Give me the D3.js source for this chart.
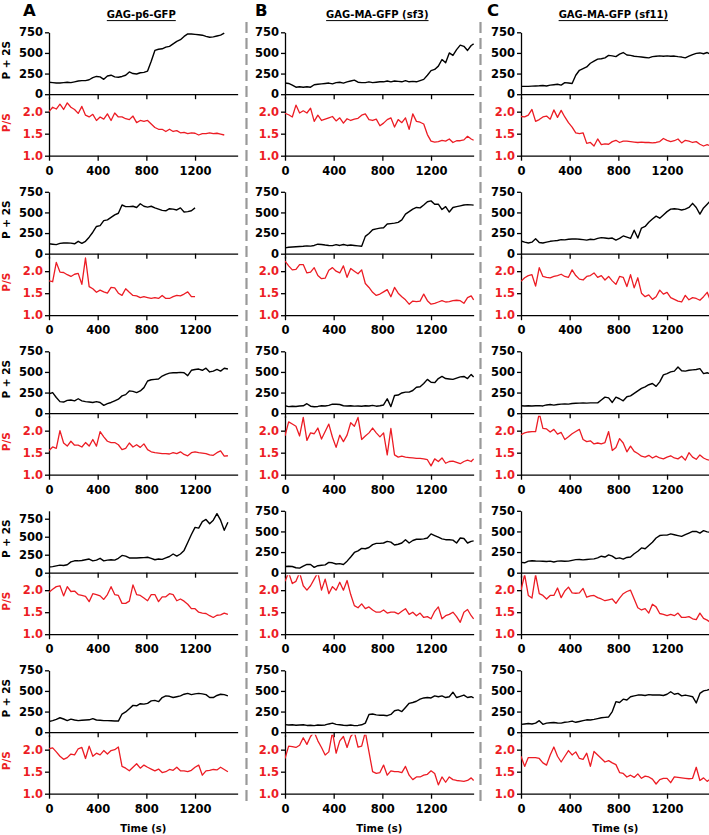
<!DOCTYPE html>
<html><head><meta charset="utf-8">
<script src="https://cdn.jsdelivr.net/npm/d3@7"></script>
<style>body{margin:0;background:#fff}svg{display:block}</style>
</head><body>
<svg id="c" width="709" height="835"></svg>
<script>
// ---------- data ----------
const timeS = [0,30,60,90,120,150,180,210,240,270,300,330,360,390,420,450,480,510,540,570,600,630,660,690,720,750,780,810,840,870,900,930,960,990,1020,1050,1080,1110,1140,1170,1200,1230,1260,1290,1320,1350,1380,1410,1440,1470,1500,1530,1550];
const colLetters = ["A","B","C"];
const colTitles = ["GAG-p6-GFP","GAG-MA-GFP (sf3)","GAG-MA-GFP (sf11)"];
const xTicks = [0,400,800,1200];
const sumTicks = [0,250,500,750];
const ratioTicks = [1.0,1.5,2.0];
const sumLabel = "P + 2S";
const ratioLabel = "P/S";
const timeLabel = "Time (s)";

// P + 2S (black)
const sumA1 = [145,140,135,135,140,145,140,150,160,165,165,175,200,215,210,180,220,230,210,205,215,230,270,250,245,260,265,280,400,530,545,550,570,580,610,640,660,700,730,730,725,720,715,700,690,695,705,715,740];
const sumB1 = [135,130,110,85,90,85,90,85,115,120,125,130,135,125,140,145,135,150,160,170,145,140,140,150,140,145,150,150,160,150,160,155,150,165,150,155,150,165,180,230,285,300,340,420,380,500,470,540,595,580,530,590,610];
const sumC1 = [95,95,95,98,100,102,105,100,110,115,120,110,140,135,130,230,290,310,330,375,400,425,430,440,470,465,455,485,505,475,470,460,455,450,445,440,455,460,465,460,465,460,462,455,450,440,460,480,495,500,490,505,490];
const sumA2 = [120,115,110,125,130,130,128,120,150,125,150,200,260,330,340,400,410,440,470,490,590,570,570,575,560,605,575,565,575,555,540,525,520,545,540,530,555,505,510,520,555];
const sumB2 = [70,78,82,85,88,90,95,92,100,115,112,105,100,98,110,100,112,100,105,100,95,90,210,245,290,300,310,315,360,365,370,380,410,480,510,540,560,555,590,630,640,600,600,535,570,505,560,570,580,590,595,592,588];
const sumC2 = [155,140,130,140,180,135,130,140,150,155,160,170,168,175,178,180,175,170,165,175,170,185,195,190,185,190,165,185,215,200,185,285,190,310,330,380,420,455,430,470,510,540,545,540,530,540,560,610,560,480,555,600,630];
const sumA3 = [235,250,190,140,135,155,160,150,175,150,140,135,130,140,130,95,115,130,150,170,210,225,270,265,250,270,310,390,405,410,415,450,470,485,490,490,495,490,455,520,530,535,520,545,500,510,530,510,545,535];
const sumB3 = [90,80,85,82,88,90,115,85,78,82,90,88,95,110,108,105,90,88,90,86,88,85,90,88,95,85,90,100,175,80,215,220,245,255,255,275,315,320,360,410,375,370,420,445,420,415,410,425,440,445,420,470,440];
const sumC3 = [90,88,90,88,90,92,88,100,105,98,105,110,112,110,118,120,122,125,122,125,125,125,160,195,185,130,195,175,150,200,210,240,270,300,320,345,360,325,380,465,480,500,510,560,515,510,520,525,530,540,480,490,480];
const sumA4 = [80,85,95,105,100,110,150,165,165,170,180,190,165,175,200,165,175,180,175,200,240,230,205,205,205,208,210,215,200,180,190,185,205,225,260,230,260,310,420,530,630,620,710,740,680,730,820,730,590,700];
const sumB4 = [75,78,75,60,55,80,100,100,65,85,90,95,125,120,105,110,100,140,190,245,265,295,290,305,340,355,355,360,380,370,335,345,360,400,360,390,405,405,410,420,470,450,430,410,400,400,395,360,420,415,360,380,385];
const sumC4 = [125,120,140,145,142,140,138,135,140,130,140,142,138,140,150,158,160,155,160,165,168,180,200,190,215,200,170,180,165,185,190,230,260,300,290,330,370,420,450,455,455,470,460,450,440,460,480,500,500,480,510,495,490];
const sumA5 = [130,140,155,175,160,140,158,148,140,145,148,150,165,148,145,140,140,138,135,135,220,245,285,325,320,345,340,350,380,385,370,420,440,435,420,430,440,460,470,455,465,470,465,455,420,420,445,460,455,440];
const sumB5 = [92,88,90,85,88,90,82,85,80,88,85,88,100,110,95,90,85,82,88,80,82,90,110,215,220,210,205,205,200,215,260,270,250,300,350,360,375,400,415,420,415,440,430,440,420,430,485,420,435,450,420,430,415];
const sumC5 = [95,100,105,100,110,140,95,110,115,118,112,110,120,125,135,120,130,140,150,148,155,165,175,180,185,250,370,360,400,390,430,440,450,450,445,455,450,450,450,445,460,490,460,470,440,450,440,430,355,470,500,510,520];

// P/S (red)
const ratioA1 = [2.0,2.1,2.06,2.17,2.05,2.2,2.1,2.05,1.96,2.12,1.92,1.88,1.94,1.8,1.88,1.83,1.95,1.8,1.97,1.88,1.88,1.84,1.82,1.9,1.75,1.8,1.78,1.8,1.72,1.64,1.6,1.6,1.55,1.6,1.55,1.57,1.52,1.53,1.5,1.52,1.51,1.47,1.5,1.5,1.52,1.5,1.51,1.49,1.47];
const ratioB1 = [1.96,1.93,1.88,2.15,1.97,2.02,1.97,2.08,1.78,1.92,1.8,1.83,1.86,1.89,1.79,1.86,1.74,1.84,1.8,1.83,1.85,1.92,1.95,1.82,1.8,1.83,1.68,1.74,1.82,1.86,1.65,1.82,1.75,1.86,1.6,1.95,1.78,1.76,1.72,1.48,1.33,1.31,1.32,1.35,1.33,1.38,1.3,1.34,1.34,1.36,1.44,1.38,1.35];
const ratioC1 = [1.89,1.88,1.92,2.05,1.78,1.82,1.88,1.9,1.83,2.04,1.87,2.03,1.88,1.75,1.65,1.52,1.5,1.52,1.28,1.3,1.22,1.38,1.25,1.27,1.26,1.32,1.35,1.3,1.33,1.33,1.32,1.31,1.3,1.31,1.3,1.3,1.29,1.3,1.32,1.39,1.35,1.32,1.34,1.38,1.29,1.35,1.33,1.3,1.32,1.26,1.22,1.25,1.23];
const ratioA2 = [1.78,1.76,2.2,1.98,1.97,1.92,1.88,1.93,1.95,1.7,2.3,1.65,1.6,1.52,1.57,1.53,1.5,1.63,1.62,1.5,1.45,1.6,1.52,1.45,1.44,1.4,1.42,1.4,1.38,1.4,1.38,1.45,1.38,1.38,1.42,1.45,1.44,1.48,1.53,1.42,1.42];
const ratioB2 = [2.23,2.12,2.03,2.04,2.15,2.15,1.96,1.98,2.08,1.9,1.83,1.84,2.02,2.08,2.0,1.96,2.12,1.86,2.06,2.0,1.94,2.03,1.72,1.63,1.52,1.45,1.48,1.53,1.58,1.42,1.63,1.5,1.42,1.35,1.25,1.32,1.31,1.32,1.48,1.33,1.25,1.27,1.3,1.33,1.3,1.31,1.33,1.34,1.33,1.27,1.4,1.44,1.35];
const ratioC2 = [1.77,1.85,1.9,1.92,1.66,2.08,1.88,1.86,1.85,1.88,1.9,1.93,1.88,1.86,2.03,1.9,1.82,1.8,1.88,1.9,1.96,1.86,1.9,1.8,1.88,1.78,1.7,1.88,1.86,1.65,1.92,1.62,1.85,1.5,1.42,1.46,1.36,1.42,1.57,1.48,1.52,1.4,1.36,1.32,1.3,1.45,1.35,1.4,1.38,1.34,1.42,1.52,1.38];
const ratioA3 = [1.55,1.63,1.6,2.0,1.72,1.65,1.76,1.67,1.67,1.63,1.73,1.65,1.8,1.65,1.98,1.86,1.76,1.73,1.73,1.68,1.57,1.6,1.72,1.63,1.68,1.62,1.7,1.57,1.52,1.5,1.49,1.48,1.48,1.47,1.5,1.48,1.52,1.46,1.43,1.5,1.52,1.5,1.49,1.48,1.45,1.44,1.5,1.54,1.42,1.43];
const ratioB3 = [1.88,2.2,2.15,2.1,1.88,2.3,1.78,1.95,1.93,2.06,1.81,1.98,2.15,1.85,1.62,1.9,1.75,1.9,2.18,2.1,2.3,1.8,1.88,1.95,2.06,1.95,1.86,1.95,1.45,2.05,1.45,1.4,1.42,1.4,1.39,1.38,1.37,1.37,1.36,1.34,1.2,1.36,1.3,1.38,1.26,1.3,1.31,1.28,1.25,1.3,1.33,1.3,1.36];
const ratioC3 = [1.91,1.95,1.97,1.98,1.98,2.4,2.05,2.04,1.97,2.03,1.92,1.96,1.8,1.86,1.93,1.98,2.03,1.8,1.75,1.77,1.7,1.72,1.7,1.73,1.98,1.55,1.62,1.82,1.72,1.52,1.65,1.53,1.48,1.42,1.4,1.44,1.38,1.42,1.38,1.36,1.4,1.43,1.38,1.36,1.42,1.33,1.5,1.4,1.35,1.45,1.38,1.34,1.33];
const ratioA4 = [1.95,2.02,2.08,2.1,1.87,2.08,1.97,1.98,1.9,1.88,1.86,1.74,1.92,1.9,1.87,1.79,1.9,2.08,1.9,1.88,1.7,1.7,1.75,2.12,1.9,1.88,1.82,1.76,1.9,1.9,1.74,1.85,1.85,1.92,1.9,1.76,1.8,1.75,1.68,1.58,1.58,1.5,1.48,1.47,1.42,1.38,1.43,1.44,1.48,1.45];
const ratioB4 = [2.2,2.4,2.15,2.2,2.4,2.1,2.0,2.1,2.25,2.4,2.0,2.25,1.92,2.08,2.0,2.18,2.0,2.22,1.9,1.65,1.6,1.69,1.58,1.62,1.55,1.5,1.5,1.55,1.48,1.5,1.5,1.46,1.52,1.58,1.45,1.5,1.42,1.48,1.38,1.4,1.35,1.52,1.62,1.35,1.42,1.45,1.5,1.4,1.27,1.5,1.56,1.42,1.35];
const ratioC4 = [2.0,2.35,1.88,1.82,2.35,1.92,1.88,1.8,1.88,1.88,2.05,1.83,1.98,2.07,1.94,1.93,1.94,2.04,1.84,1.87,1.88,1.83,1.8,1.76,1.78,1.8,1.7,1.82,1.92,1.97,2.0,1.8,1.6,1.55,1.58,1.48,1.68,1.62,1.47,1.45,1.42,1.45,1.42,1.48,1.38,1.38,1.4,1.35,1.33,1.48,1.36,1.32,1.28];
const ratioA5 = [2.02,2.04,1.95,1.85,1.78,1.82,1.9,1.88,2.02,2.05,1.8,2.08,1.85,1.92,1.88,1.98,1.9,1.98,2.0,2.06,1.62,1.58,1.52,1.6,1.68,1.58,1.65,1.6,1.56,1.52,1.56,1.48,1.5,1.55,1.53,1.6,1.52,1.52,1.5,1.53,1.6,1.65,1.42,1.52,1.53,1.55,1.54,1.6,1.55,1.5];
const ratioB5 = [1.8,2.08,2.07,2.05,2.1,2.27,2.12,2.3,2.4,2.2,2.05,1.88,1.95,2.4,1.92,2.2,2.3,2.05,2.3,2.4,2.06,2.08,2.4,1.95,1.5,1.46,1.48,1.65,1.42,1.52,1.5,1.5,1.48,1.62,1.42,1.32,1.38,1.38,1.42,1.44,1.52,1.46,1.2,1.38,1.26,1.38,1.32,1.3,1.29,1.28,1.3,1.36,1.3];
const ratioC5 = [1.85,1.62,1.82,1.82,1.82,1.8,1.7,1.65,1.88,2.06,1.85,1.72,1.85,1.98,1.88,1.95,1.8,1.78,1.92,1.62,1.96,1.88,1.8,1.72,1.75,1.7,1.66,1.48,1.46,1.38,1.42,1.37,1.45,1.35,1.4,1.38,1.33,1.22,1.32,1.35,1.35,1.25,1.38,1.37,1.36,1.35,1.34,1.35,1.6,1.3,1.36,1.28,1.32];

// y-domain tops of the P + 2S panels (row by row, A B C)
const sumTopRow = [[750,750,750],[750,750,750],[750,750,750],[860,750,750],[750,750,750]];
const ratioDomain = [1.0, 2.34];
const timeDomain = [0, 1550];

const sumRows = [[sumA1,sumB1,sumC1],[sumA2,sumB2,sumC2],[sumA3,sumB3,sumC3],[sumA4,sumB4,sumC4],[sumA5,sumB5,sumC5]];
const ratioRows = [[ratioA1,ratioB1,ratioC1],[ratioA2,ratioB2,ratioC2],[ratioA3,ratioB3,ratioC3],[ratioA4,ratioB4,ratioC4],[ratioA5,ratioB5,ratioC5]];

// ---------- layout ----------
const RED = "#ec1c24";
const FONT = "'DejaVu Sans', Arial, sans-serif";
const colX = [49, 285, 521];
const pxPerSec = 0.1217;
const rowPitch = 159.5;
const sumTopY = 32.3, sumBotY = 94.2, ratioTopY = 96.7, ratioBotY = 155.7;
const letterX = [23, 255, 487];
const dashX = [246.5, 480.5];

const svg = d3.select("#c");
const defs = svg.append("defs");

// separators
svg.selectAll("line.sep").data(dashX).join("line").attr("class","sep")
  .attr("x1", d=>d).attr("x2", d=>d).attr("y1", 22).attr("y2", 802)
  .attr("stroke", "#999").attr("stroke-width", 2.2).attr("stroke-dasharray", "11,5");

function styleAxis(g, textColor){
  g.attr("font-family", FONT).attr("font-size", 11.5).attr("font-weight", "bold");
  g.selectAll(".domain").attr("stroke", "#000").attr("stroke-width", 1.3);
  g.selectAll(".tick line").attr("stroke", "#000").attr("stroke-width", 1.3);
  g.selectAll(".tick text").attr("fill", textColor);
}

let clipId = 0;
for (let r = 0; r < 5; r++) {
  for (let c = 0; c < 3; c++) {
    const ox = colX[c], oy = r * rowPitch;
    const x = d3.scaleLinear().domain(timeDomain).range([ox, ox + (timeDomain[1]-timeDomain[0]) * pxPerSec]);
    const yS = d3.scaleLinear().domain([0, sumTopRow[r][c]]).range([oy + sumBotY, oy + sumTopY]);
    const yR = d3.scaleLinear().domain(ratioDomain).range([oy + ratioBotY, oy + ratioTopY]);

    // P + 2S axes
    const gy1 = svg.append("g").attr("transform", `translate(${ox},0)`)
      .call(d3.axisLeft(yS).tickValues(sumTicks).tickFormat(d3.format("d")).tickSize(4).tickPadding(2).tickSizeOuter(0));
    styleAxis(gy1, "#000");
    const gx1 = svg.append("g").attr("transform", `translate(0,${oy + sumBotY})`)
      .call(d3.axisBottom(x).tickValues(xTicks).tickSize(5).tickFormat("").tickSizeOuter(0));
    styleAxis(gx1, "#000");

    // P/S axes
    const gy2 = svg.append("g").attr("transform", `translate(${ox},0)`)
      .call(d3.axisLeft(yR).tickValues(ratioTicks).tickFormat(d3.format(".1f")).tickSize(4).tickPadding(2).tickSizeOuter(0));
    styleAxis(gy2, RED);
    const gx2 = svg.append("g").attr("transform", `translate(0,${oy + ratioBotY})`)
      .call(d3.axisBottom(x).tickValues(xTicks).tickFormat(d3.format("d")).tickSize(5).tickPadding(6).tickSizeOuter(0));
    styleAxis(gx2, "#000");

    // clips
    const cs = "clip" + (clipId++), cr = "clip" + (clipId++);
    defs.append("clipPath").attr("id", cs).append("rect")
      .attr("x", ox).attr("y", oy + sumTopY - 2).attr("width", x.range()[1] - ox + 2).attr("height", sumBotY - sumTopY + 2);
    defs.append("clipPath").attr("id", cr).append("rect")
      .attr("x", ox).attr("y", oy + ratioTopY).attr("width", x.range()[1] - ox + 2).attr("height", ratioBotY - ratioTopY);

    const sData = sumRows[r][c], rData = ratioRows[r][c];
    svg.append("path").attr("clip-path", `url(#${cs})`)
      .attr("d", d3.line().x((d, i) => x(timeS[i])).y(d => yS(d))(sData))
      .attr("fill", "none").attr("stroke", "#000").attr("stroke-width", 1.4).attr("stroke-linejoin", "round");
    svg.append("path").attr("clip-path", `url(#${cr})`)
      .attr("d", d3.line().x((d, i) => x(timeS[i])).y(d => yR(d))(rData))
      .attr("fill", "none").attr("stroke", RED).attr("stroke-width", 1.3).attr("stroke-linejoin", "round");

    // y titles for column A
    if (c === 0) {
      svg.append("text").attr("transform", `translate(9.8,${oy + (sumTopY + sumBotY) / 2 - 3}) rotate(-90)`)
        .attr("text-anchor", "middle").attr("font-family", FONT).attr("font-size", 10.5).attr("font-weight", "bold")
        .attr("fill", "#000").text(sumLabel);
      svg.append("text").attr("transform", `translate(9.8,${oy + (ratioTopY + ratioBotY) / 2 - 3.5}) rotate(-90)`)
        .attr("text-anchor", "middle").attr("font-family", FONT).attr("font-size", 10.5).attr("font-weight", "bold")
        .attr("fill", RED).text(ratioLabel);
    }
    // x title for bottom row
    if (r === 4) {
      svg.append("text").attr("x", (x.range()[0] + x.range()[1]) / 2).attr("y", 831.5)
        .attr("text-anchor", "middle").attr("font-family", FONT).attr("font-size", 10)
        .attr("font-weight", "bold").attr("fill", "#000").text(timeLabel);
    }
    // column title + letter
    if (r === 0) {
      const cx = (x.range()[0] + x.range()[1]) / 2 - 2;
      const t = svg.append("text").attr("x", cx).attr("y", 18)
        .attr("text-anchor", "middle").attr("font-family", FONT).attr("font-size", 10)
        .attr("font-weight", "bold").attr("fill", "#000").text(colTitles[c]);
      const bb = t.node().getBBox();
      svg.append("line").attr("x1", bb.x).attr("x2", bb.x + bb.width).attr("y1", 20.6).attr("y2", 20.6)
        .attr("stroke", "#000").attr("stroke-width", 1);
      svg.append("text").attr("x", letterX[c]).attr("y", 15.5)
        .attr("font-family", FONT).attr("font-size", 16.5).attr("font-weight", "bold")
        .attr("fill", "#000").text(colLetters[c]);
    }
  }
}
</script>
</body></html>
